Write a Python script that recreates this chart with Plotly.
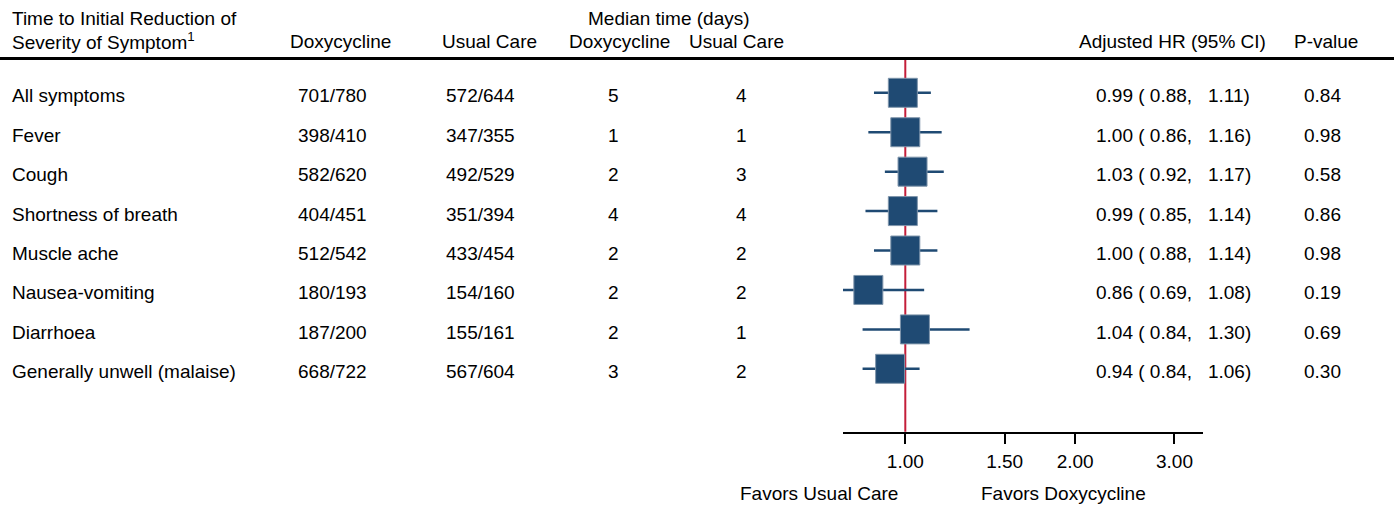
import plotly.graph_objects as go
import math

# ---------------- data ----------------
symptoms = ["All symptoms", "Fever", "Cough", "Shortness of breath", "Muscle ache",
            "Nausea-vomiting", "Diarrhoea", "Generally unwell (malaise)"]
doxy_n = ["701/780", "398/410", "582/620", "404/451", "512/542", "180/193", "187/200", "668/722"]
usual_n = ["572/644", "347/355", "492/529", "351/394", "433/454", "154/160", "155/161", "567/604"]
median_doxy = [5, 1, 2, 4, 2, 2, 2, 3]
median_usual = [4, 1, 3, 4, 2, 2, 1, 2]
hr = [0.99, 1.00, 1.03, 0.99, 1.00, 0.86, 1.04, 0.94]
hr_lo = [0.88, 0.86, 0.92, 0.85, 0.88, 0.69, 0.84, 0.84]
hr_hi = [1.11, 1.16, 1.17, 1.14, 1.14, 1.08, 1.30, 1.06]
p_values = ["0.84", "0.98", "0.58", "0.86", "0.98", "0.19", "0.69", "0.30"]
tick_vals = [1.0, 1.5, 2.0, 3.0]
tick_text = ["1.00", "1.50", "2.00", "3.00"]

# ---------------- layout constants ----------------
W, H = 1394, 509
FONT = "Liberation Sans, Arial, sans-serif"
FS = 19
NAVY = "#1F4A73"
RED = "#C41E3A"

def px_x(p):
    return p / W

def px_y(p):
    return 1 - p / H

rows = list(range(len(symptoms)))

fig = go.Figure()

# CI lines
ci_x, ci_y = [], []
for i in rows:
    ci_x += [hr_lo[i], hr_hi[i], None]
    ci_y += [i, i, None]
fig.add_trace(go.Scatter(x=ci_x, y=ci_y, mode="lines",
                         line=dict(color=NAVY, width=2.5),
                         hoverinfo="skip", showlegend=False))

# Point estimates
fig.add_trace(go.Scatter(x=hr, y=rows, mode="markers",
                         marker=dict(symbol="square", size=29, color=NAVY,
                                     line=dict(color="#7f95ab", width=1)),
                         showlegend=False))

# Reference line (HR = 1), drawn beneath the squares
fig.add_shape(type="line", xref="x", yref="y domain", x0=1, x1=1, y0=0, y1=1,
              line=dict(color=RED, width=2), layer="below")

# Header rule
fig.add_shape(type="line", xref="paper", yref="paper", x0=0, x1=1,
              y0=px_y(58.5), y1=px_y(58.5), line=dict(color="black", width=3))

annotations = []

def add_text(text, x, y, xanchor="center", yref="paper", yshift=0):
    annotations.append(dict(text=text, x=x, y=y, xref="paper", yref=yref,
                            xanchor=xanchor, yanchor="middle", showarrow=False,
                            yshift=yshift,
                            font=dict(family=FONT, size=FS, color="black")))

# Header
add_text("Time to Initial Reduction of", px_x(10), px_y(18), xanchor="left")
add_text("Severity of Symptom<sup>1</sup>", px_x(10), px_y(41), xanchor="left")
add_text("Median time (days)", px_x(669), px_y(18))
add_text("Doxycycline", px_x(340), px_y(42))
add_text("Usual Care", px_x(489), px_y(42))
add_text("Doxycycline", px_x(619), px_y(42))
add_text("Usual Care", px_x(736), px_y(42))
add_text("Adjusted HR (95% CI)", px_x(1172), px_y(42))
add_text("P-value", px_x(1326), px_y(42))

NB = "\u00a0"
for i in rows:
    add_text(symptoms[i], px_x(10), i, xanchor="left", yref="y", yshift=-3)
    add_text(doxy_n[i], px_x(332), i, yref="y", yshift=-3)
    add_text(usual_n[i], px_x(480), i, yref="y", yshift=-3)
    add_text(str(median_doxy[i]), px_x(613), i, yref="y", yshift=-3)
    add_text(str(median_usual[i]), px_x(742), i, yref="y", yshift=-3)
    hr_txt = f"{hr[i]:.2f}{NB}({NB}{hr_lo[i]:.2f},{NB}{NB}{NB}{hr_hi[i]:.2f})"
    add_text(hr_txt, px_x(1094), i, xanchor="left", yref="y", yshift=-3)
    add_text(p_values[i], px_x(1322), i, yref="y", yshift=-3)

# Footer labels
add_text("Favors Usual Care", px_x(900), px_y(493), xanchor="right")
add_text("Favors Doxycycline", px_x(979), px_y(493), xanchor="left")

x_lo_px, x_hi_px, x1_px = 843, 1203, 905.3
px_per_log10 = 245 * math.log(10)
xr0 = (x_lo_px - x1_px) / px_per_log10
xr1 = (x_hi_px - x1_px) / px_per_log10

y_top_px, y_bot_px = 60, 431.7
row0_px, row_step = 92.8, 39.43
yr_bot = (y_bot_px - row0_px) / row_step
yr_top = (y_top_px - row0_px) / row_step

fig.update_layout(
    width=W, height=H,
    margin=dict(l=0, r=0, t=0, b=0),
    paper_bgcolor="white", plot_bgcolor="white",
    font=dict(family=FONT, size=FS, color="black"),
    annotations=annotations,
    xaxis=dict(type="log", range=[xr0, xr1],
               domain=[x_lo_px / W, x_hi_px / W],
               tickvals=tick_vals, ticktext=tick_text,
               ticks="outside", ticklen=10, tickwidth=2, tickcolor="black",
               showline=True, linecolor="black", linewidth=2,
               showgrid=False, zeroline=False,
               ticklabelstandoff=1,
               tickfont=dict(family=FONT, size=FS, color="black")),
    yaxis=dict(range=[yr_bot, yr_top],
               domain=[1 - y_bot_px / H, 1 - y_top_px / H],
               visible=False, showgrid=False, zeroline=False),
)

fig.write_html("out.html",
               config={"displayModeBar": False},
               post_script="document.body.style.margin='0';document.body.style.padding='0';document.body.style.overflow='hidden';")
